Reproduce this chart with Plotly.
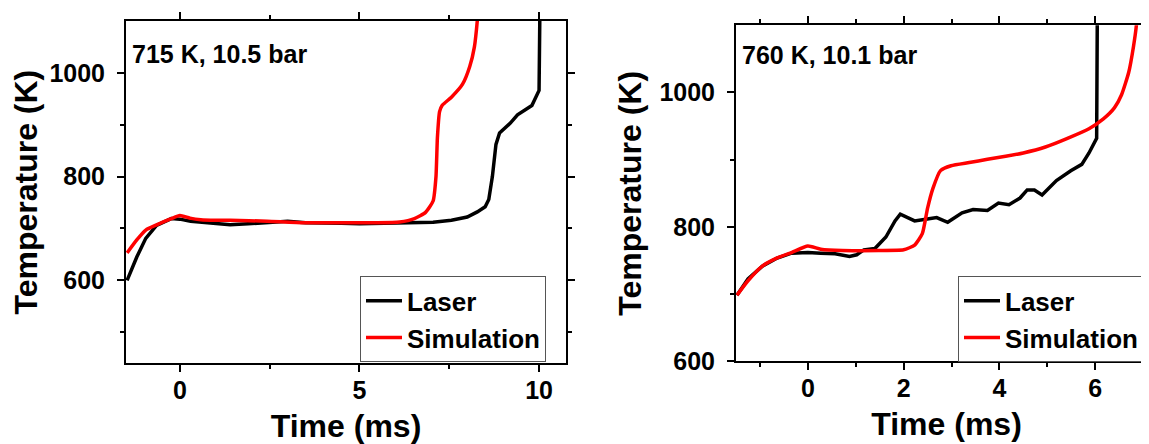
import plotly.graph_objects as go

# ---- Data: 715 K, 10.5 bar (left panel) ----
t_laser_715 = [-1.47, -1.2, -0.95, -0.65, -0.24, 0.0, 0.3, 0.58, 1.0, 1.4, 1.9, 2.4, 3.0, 3.5, 4.0, 4.5,
               5.0, 5.5, 6.0, 6.5, 7.05, 7.56, 8.0, 8.28, 8.5, 8.6, 8.7, 8.8, 8.9, 9.2, 9.4, 9.8,
               10.0, 10.02, 10.03]
T_laser_715 = [600, 645, 681, 706, 719, 718, 714, 712, 709, 707, 709, 711, 714, 711, 711, 710,
               709, 710, 710, 711, 712, 716, 722, 732, 742, 756, 800, 862, 884, 903, 919, 937,
               966, 1100, 1200]

t_sim_715 = [-1.47, -1.2, -0.95, -0.65, -0.24, 0.0, 0.28, 0.58, 1.0, 1.4, 2.43, 3.46, 4.48, 5.5,
             6.12, 6.53, 6.84, 7.05, 7.13, 7.17, 7.23, 7.3, 7.56, 7.87, 8.07, 8.2, 8.28, 8.33]
T_sim_715 = [653, 678, 697, 707, 719, 725, 720, 717, 716, 716, 714, 711, 711, 711,
             712.5, 719, 731, 753, 800, 875, 925, 937, 953, 978, 1012, 1050, 1100, 1150]

# ---- Data: 760 K, 10.1 bar (right panel) ----
t_laser_760 = [-1.48, -1.25, -0.95, -0.64, -0.34, 0.0, 0.27, 0.57, 0.87, 1.02, 1.17, 1.4, 1.63, 1.82,
               1.93, 2.08, 2.23, 2.46, 2.69, 2.92, 3.22, 3.45, 3.75, 3.98, 4.2, 4.43, 4.58, 4.73,
               4.89, 5.19, 5.49, 5.72, 5.87, 6.03, 6.04, 6.05]
T_laser_760 = [698.6, 722.6, 741.8, 753.8, 761, 762, 761, 760, 756, 758.6, 766, 768, 785, 809,
               819, 814, 809, 811.5, 814, 807, 821, 826, 824.5, 835.6, 833, 843, 855, 855,
               847.6, 869, 883.6, 893, 910, 931.7, 1100, 1200]

t_sim_760 = [-1.48, -1.25, -0.95, -0.64, -0.34, 0.0, 0.27, 0.72, 1.48, 2.0, 2.23, 2.39, 2.5, 2.61,
             2.77, 2.99, 3.37, 3.75, 4.13, 4.5, 4.96, 5.42, 5.87, 6.17, 6.4, 6.55, 6.7, 6.8,
             6.86, 6.9]
T_sim_760 = [698.6, 720, 741.8, 754, 762, 771.6, 767, 765, 765, 766, 773, 790, 828, 857,
             883.7, 891, 895.7, 900.5, 905, 910, 918.8, 931.7, 946, 960.6, 977, 996.6, 1030, 1068.75,
             1100, 1140]

labels_715 = "715 K, 10.5 bar"
labels_760 = "760 K, 10.1 bar"
series_names = ["Laser", "Simulation"]

FONT = "Liberation Sans, Arial, sans-serif"
W, H = 1149, 444
LW = 3.5

fig = go.Figure()
fig.add_trace(go.Scatter(x=t_laser_715, y=T_laser_715, mode="lines", name=series_names[0],
                         line=dict(color="black", width=LW), xaxis="x", yaxis="y", legend="legend"))
fig.add_trace(go.Scatter(x=t_sim_715, y=T_sim_715, mode="lines", name=series_names[1],
                         line=dict(color="#ff0000", width=LW, shape="spline", smoothing=0.5),
                         xaxis="x", yaxis="y", legend="legend"))
fig.add_trace(go.Scatter(x=t_laser_760, y=T_laser_760, mode="lines", name=series_names[0],
                         line=dict(color="black", width=LW), xaxis="x2", yaxis="y2", legend="legend2"))
fig.add_trace(go.Scatter(x=t_sim_760, y=T_sim_760, mode="lines", name=series_names[1],
                         line=dict(color="#ff0000", width=LW, shape="spline", smoothing=0.5),
                         xaxis="x2", yaxis="y2", legend="legend2"))

tickfont = dict(family=FONT, size=25, color="black", weight="bold")
titlefont = dict(family=FONT, size=32, color="black", weight="bold")

def xax(domain, rng, major, minor, anchor, mirror):
    return dict(domain=domain, range=rng, anchor=anchor, tickvals=major, ticks="outside",
                ticklen=7, tickwidth=2, tickcolor="black", linewidth=2, linecolor="black",
                mirror=mirror, showgrid=False, zeroline=False, tickfont=tickfont,
                ticklabelstandoff=-3,
                minor=dict(tickvals=minor, ticks="outside", ticklen=4, tickwidth=2, tickcolor="black"),
                title=dict(text="Time (ms)", font=titlefont, standoff=11))

def yax(domain, rng, major, minor, anchor, mirror):
    return dict(domain=domain, range=rng, anchor=anchor, tickvals=major, ticks="outside",
                ticklen=7, tickwidth=2, tickcolor="black", linewidth=2, linecolor="black",
                mirror=mirror, showgrid=False, zeroline=False, tickfont=tickfont,
                ticklabelstandoff=7,
                minor=dict(tickvals=minor, ticks="outside", ticklen=4, tickwidth=2, tickcolor="black"),
                title=dict(text="Temperature (K)", font=titlefont, standoff=8))

legend_style = dict(font=dict(family=FONT, size=26, color="black", weight="bold"),
                    bgcolor="white", bordercolor="#555555", borderwidth=1,
                    xanchor="left", yanchor="top", tracegroupgap=0, itemwidth=36)

fig.update_layout(
    width=W, height=H,
    margin=dict(l=0, r=0, t=0, b=0),
    paper_bgcolor="white", plot_bgcolor="white",
    font=dict(family=FONT, color="black"),
    xaxis=xax([118 / W, 558 / W], [-1.5, 10.75], [0, 5, 10], [2.5, 7.5], "y", "ticks"),
    yaxis=yax([1 - 367 / H, 1 - 13.3 / H], [440, 1100], [600, 800, 1000], [500, 700, 900], "x", "ticks"),
    xaxis2=xax([728 / W, 1.0], [-1.5, 7.29], [0, 2, 4, 6], [-1, 1, 3, 5, 7], "y2", "ticks"),
    yaxis2=yax([1 - 365 / H, 1 - 17.7 / H], [600, 1100], [600, 800, 1000], [700, 900], "x2", False),
    legend=dict(x=352 / W, y=1 - 277 / H, **legend_style),
    legend2=dict(x=950 / W, y=1 - 277 / H, **legend_style),
    showlegend=True,
    annotations=[
        dict(text=labels_715, xref="paper", yref="paper", x=122 / W, y=1 - 47 / H,
             xanchor="left", yanchor="middle", showarrow=False,
             font=dict(family=FONT, size=25, color="black", weight="bold")),
        dict(text=labels_760, xref="paper", yref="paper", x=732 / W, y=1 - 49 / H,
             xanchor="left", yanchor="middle", showarrow=False,
             font=dict(family=FONT, size=25, color="black", weight="bold")),
    ],
)

fig.write_html("out.html")
